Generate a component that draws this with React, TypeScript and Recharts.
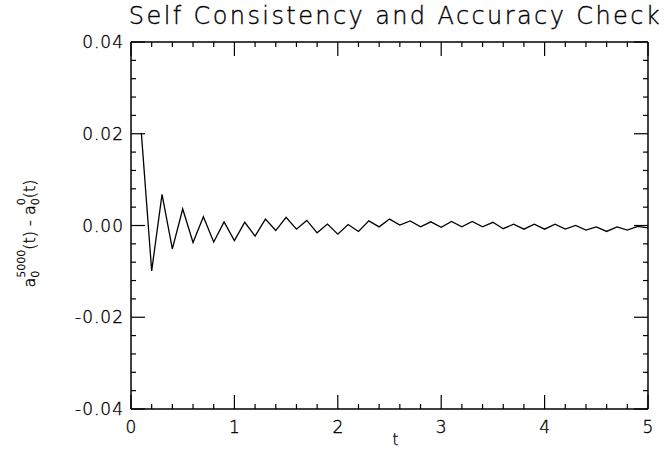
import React from "react";
import { LineChart, Line, XAxis, YAxis } from "recharts";

const times = [
  0.1, 0.2, 0.3, 0.4, 0.5, 0.6, 0.7, 0.8, 0.9, 1.0,
  1.1, 1.2, 1.3, 1.4, 1.5, 1.6, 1.7, 1.8, 1.9, 2.0,
  2.1, 2.2, 2.3, 2.4, 2.5, 2.6, 2.7, 2.8, 2.9, 3.0,
  3.1, 3.2, 3.3, 3.4, 3.5, 3.6, 3.7, 3.8, 3.9, 4.0,
  4.1, 4.2, 4.3, 4.4, 4.5, 4.6, 4.7, 4.8, 4.9, 5.0,
];

const diffs = [
  0.0202, -0.0099, 0.0068, -0.0051, 0.0036, -0.0037, 0.0019, -0.0036, 0.0008, -0.0033,
  0.0007, -0.0023, 0.0014, -0.0011, 0.0018, -0.0008, 0.0011, -0.0016, 0.0003, -0.0019,
  0.0002, -0.0013, 0.001, -0.0003, 0.0014, 0.0001, 0.001, -0.0003, 0.0008, -0.0004,
  0.0009, -0.0003, 0.0009, -0.0003, 0.0007, -0.0007, 0.0003, -0.0008, 0.0003, -0.0008,
  0.0003, -0.0008, 0.0, -0.001, -0.0003, -0.0013, -0.0003, -0.001, -0.0002, -0.0005,
];

const xTicks = [
  0, 0.2, 0.4, 0.6, 0.8, 1, 1.2, 1.4, 1.6, 1.8, 2, 2.2, 2.4, 2.6, 2.8,
  3, 3.2, 3.4, 3.6, 3.8, 4, 4.2, 4.4, 4.6, 4.8, 5,
];
const xMajor = [0, 1, 2, 3, 4, 5];
const xLabels = ["0", "1", "2", "3", "4", "5"];

const yTicks = [
  -0.04, -0.036, -0.032, -0.028, -0.024, -0.02, -0.016, -0.012, -0.008, -0.004, 0,
  0.004, 0.008, 0.012, 0.016, 0.02, 0.024, 0.028, 0.032, 0.036, 0.04,
];
const yMajor = [-0.04, -0.02, 0, 0.02, 0.04];
const yLabels = ["-0.04", "-0.02", "0.00", "0.02", "0.04"];

const data = times.map((t, i) => ({ t, d: diffs[i] }));

const FONT = "'DejaVu Sans', sans-serif";
const MAJOR = 14;
const MINOR = 5;

// thin glyphs, darkened with a hairline stroke
const txt = { fontFamily: FONT, fontWeight: 200, fill: "#000", stroke: "#000", strokeWidth: 0.35 };

const majorIndex = (list: number[], v: number) =>
  list.findIndex((m) => Math.abs(m - v) < 1e-9);

function BottomTick(props: any) {
  const { x, y, payload } = props;
  const i = majorIndex(xMajor, payload.value);
  const len = i >= 0 ? MAJOR : MINOR;
  return (
    <g>
      <line x1={x} y1={y} x2={x} y2={y - len} stroke="#000" strokeWidth={1.2} />
      {i >= 0 && (
        <text x={x} y={y + 18} textAnchor="middle" dominantBaseline="central" fontSize={17} {...txt}>
          {xLabels[i]}
        </text>
      )}
    </g>
  );
}

function TopTick(props: any) {
  const { x, y, payload } = props;
  const len = majorIndex(xMajor, payload.value) >= 0 ? MAJOR : MINOR;
  return <line x1={x} y1={y} x2={x} y2={y + len} stroke="#000" strokeWidth={1.2} />;
}

function LeftTick(props: any) {
  const { x, y, payload } = props;
  const i = majorIndex(yMajor, payload.value);
  const len = i >= 0 ? MAJOR : MINOR;
  return (
    <g>
      <line x1={x} y1={y} x2={x + len} y2={y} stroke="#000" strokeWidth={1.2} />
      {i >= 0 && (
        <text x={x - 7} y={y} textAnchor="end" dominantBaseline="central" fontSize={17}
          letterSpacing={1} {...txt}>
          {yLabels[i]}
        </text>
      )}
    </g>
  );
}

function RightTick(props: any) {
  const { x, y, payload } = props;
  const len = majorIndex(yMajor, payload.value) >= 0 ? MAJOR : MINOR;
  return <line x1={x} y1={y} x2={x - len} y2={y} stroke="#000" strokeWidth={1.2} />;
}

function YTitle(props: any) {
  const vb = props.viewBox || { x: 0, y: 42, width: 131, height: 367 };
  const cx = vb.x + 35;
  const cy = vb.y + vb.height / 2 + 8;
  return (
    <text x={cx} y={cy} transform={`rotate(-90, ${cx}, ${cy})`} textAnchor="middle"
      fontSize={16} {...txt}>
      <tspan>a</tspan>
      <tspan fontSize={11} dy={4}>0</tspan>
      <tspan fontSize={11} dx={-7} dy={-14}>5000</tspan>
      <tspan dy={10}>(t) - a</tspan>
      <tspan fontSize={11} dy={4}>0</tspan>
      <tspan fontSize={11} dx={-7} dy={-14}>0</tspan>
      <tspan dy={10}>(t)</tspan>
    </text>
  );
}

function ChartTitle(props: any) {
  const vb = props.viewBox || { x: 131, y: 41, width: 517, height: 1 };
  return (
    <text x={vb.x + vb.width / 2 + 6} y={24} textAnchor="middle" fontSize={24}
      letterSpacing={2.4} {...txt}>
      Self Consistency and Accuracy Check
    </text>
  );
}

function XTitle(props: any) {
  const vb = props.viewBox || { x: 131, y: 409, width: 517, height: 41 };
  return (
    <text x={vb.x + vb.width / 2 + 6} y={445} textAnchor="middle" fontSize={15} {...txt}>
      t
    </text>
  );
}

export default function App() {
  return (
    <div style={{ position: "absolute", left: 0, top: 0, background: "#fff" }}>
      <LineChart
        width={668}
        height={450}
        data={data}
        margin={{ top: 41, right: 19, bottom: 0, left: 0 }}
      >
        <XAxis
          dataKey="t"
          type="number"
          domain={[0, 5]}
          ticks={xTicks}
          interval={0}
          height={41}
          tickSize={0}
          tickMargin={0}
          tickLine={false}
          tick={<BottomTick />}
          axisLine={{ stroke: "#000", strokeWidth: 1.5 }}
          allowDataOverflow
          label={{ content: <XTitle /> }}
        />
        <XAxis
          xAxisId="top"
          orientation="top"
          dataKey="t"
          type="number"
          domain={[0, 5]}
          ticks={xTicks}
          interval={0}
          height={1}
          tickSize={0}
          tickMargin={0}
          tickLine={false}
          tick={<TopTick />}
          axisLine={{ stroke: "#000", strokeWidth: 1.5 }}
          allowDataOverflow
          label={{ content: <ChartTitle /> }}
        />
        <YAxis
          type="number"
          domain={[-0.04, 0.04]}
          ticks={yTicks}
          interval={0}
          width={131}
          tickSize={0}
          tickMargin={0}
          tickLine={false}
          tick={<LeftTick />}
          axisLine={{ stroke: "#000", strokeWidth: 1.5 }}
          allowDataOverflow
          label={{ content: <YTitle /> }}
        />
        <YAxis
          yAxisId="right"
          orientation="right"
          type="number"
          domain={[-0.04, 0.04]}
          ticks={yTicks}
          interval={0}
          width={1}
          tickSize={0}
          tickMargin={0}
          tickLine={false}
          tick={<RightTick />}
          axisLine={{ stroke: "#000", strokeWidth: 1.5 }}
          allowDataOverflow
        />
        <Line
          type="linear"
          dataKey="d"
          stroke="#000"
          strokeWidth={1.3}
          dot={false}
          isAnimationActive={false}
        />
      </LineChart>
    </div>
  );
}
